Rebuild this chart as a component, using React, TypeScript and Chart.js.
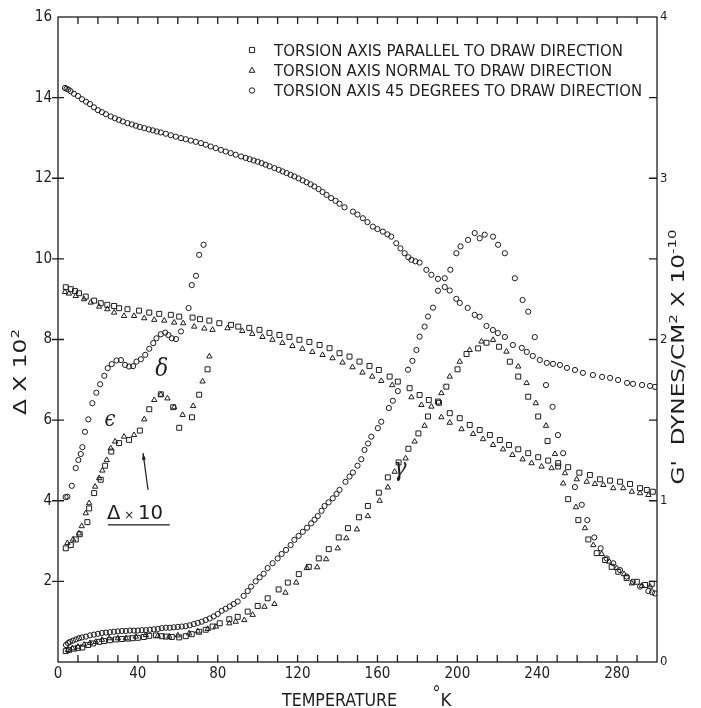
import React, { useEffect, useRef } from "react";
import { Chart, registerables } from "chart.js";

Chart.register(...registerables);

type Pt = [number, number];

// ---------- labels ----------
const legendLabels = [
  "TORSION AXIS PARALLEL TO DRAW DIRECTION",
  "TORSION AXIS NORMAL TO DRAW DIRECTION",
  "TORSION AXIS 45 DEGREES TO DRAW DIRECTION",
];
const xTitle = "TEMPERATURE";
const xUnit = "K";
const leftTitle = "Δ X 10";
const rightTitleA = "G'";
const rightTitleB = "DYNES/CM";
const rightTitleC = " X 10";
const rightTitleExp = "-10";
const peakDelta = "δ";
const peakEpsilon = "ϵ";
const peakGamma = "γ";
const scaleNote = "10";

// ---------- axis ranges / ticks ----------
const xRange: Pt = [0, 300];
const xLabelStep = 40;
const xMinorStep = 10;
const yLeftRange: Pt = [0, 16];
const yLeftStep = 2;
const yRightRange: Pt = [0, 4];
const yRightStep = 1;
const yRightMinorStep = 0.5;

// ---------- G' (right axis, dynes/cm^2 x 10^-10) ----------
const gSquare: Pt[] = [[3.9,2.324],[6.4,2.312],[8.5,2.3],[10.5,2.287],[13.9,2.266],[18.1,2.241],[21.4,2.225],[24.7,2.215],[28.1,2.208],[30.6,2.194],[34.8,2.188],[40.6,2.179],[45.7,2.167],[50.7,2.159],[56.5,2.153],[60.7,2.142],[67.4,2.136],[71.1,2.126],[75.8,2.117],[80.8,2.101],[86.7,2.091],[90.3,2.08],[95.8,2.072],[100.9,2.06],[105.9,2.041],[110.9,2.028],[115.9,2.016],[120.9,1.998],[125.9,1.985],[131,1.966],[136,1.946],[141,1.915],[146,1.894],[151,1.863],[156,1.836],[160.7,1.811],[166.1,1.77],[170.2,1.739],[176.1,1.698],[181.1,1.656],[185.7,1.625],[190.3,1.615],[196.2,1.543],[201.2,1.512],[206.2,1.47],[211.2,1.439],[216.3,1.408],[221.3,1.377],[225.9,1.346],[230.5,1.319],[235.5,1.295],[240.5,1.27],[245.5,1.249],[250.5,1.233],[255.5,1.208],[261.1,1.174],[266.4,1.16],[271.4,1.133],[276.5,1.125],[281.5,1.118],[286.5,1.104],[291.5,1.078],[294.9,1.067],[297.9,1.056]];
const gTriangle: Pt[] = [[3.5,2.295],[5.5,2.285],[8.9,2.27],[13,2.25],[16.4,2.229],[20.6,2.204],[24.7,2.188],[28.1,2.167],[33.1,2.146],[38.1,2.146],[43.2,2.132],[48.2,2.122],[53.2,2.117],[58.2,2.105],[62.7,2.101],[68.2,2.08],[73.3,2.068],[77.4,2.06],[84.9,2.07],[92.3,2.053],[97.3,2.035],[102.4,2.016],[107.4,1.998],[112.4,1.979],[117.4,1.96],[122.4,1.942],[127.4,1.923],[132.5,1.904],[137.5,1.884],[142.5,1.857],[147.5,1.828],[152.5,1.795],[157.4,1.77],[161.9,1.743],[167.4,1.717],[177,1.642],[182,1.594],[187,1.584],[192,1.518],[196.2,1.484],[202.1,1.444],[207.9,1.414],[212.9,1.382],[217.9,1.346],[222.9,1.319],[227.6,1.284],[232.7,1.257],[237.2,1.233],[242.2,1.212],[247.2,1.202],[253.9,1.171],[259.8,1.133],[264.8,1.118],[268.9,1.104],[273.1,1.098],[278.1,1.078],[283.1,1.078],[287.4,1.056],[291.5,1.047],[295.7,1.036]];
const gCircle: Pt[] = [[3.5,3.56],[4.3,3.555],[5.2,3.55],[6.3,3.54],[8,3.524],[10,3.51],[12,3.49],[14,3.475],[16,3.46],[18,3.44],[20,3.422],[22,3.41],[24,3.397],[26.4,3.383],[28.5,3.372],[30.5,3.362],[32.5,3.352],[34.8,3.342],[37,3.334],[39,3.326],[41,3.318],[43.2,3.311],[45.5,3.303],[47.5,3.297],[49.5,3.29],[51.5,3.284],[54,3.276],[56.5,3.267],[59,3.258],[61.6,3.249],[64,3.242],[66.5,3.234],[69,3.226],[71.6,3.218],[74,3.208],[76.5,3.197],[79,3.187],[81.6,3.176],[84,3.166],[86.5,3.156],[89,3.146],[91.7,3.135],[94,3.126],[96,3.118],[98,3.11],[100,3.103],[102,3.094],[104,3.084],[106,3.074],[108.4,3.063],[110.5,3.053],[112.5,3.042],[114.5,3.032],[116.5,3.021],[118.4,3.011],[120.5,2.999],[122.5,2.987],[124.5,2.975],[126.5,2.962],[128.4,2.949],[130.5,2.933],[132.5,2.915],[134.5,2.897],[136.8,2.877],[139,2.86],[141,2.842],[143.5,2.82],[147.7,2.793],[150,2.775],[152.7,2.752],[155,2.728],[157.7,2.7],[160,2.685],[162.7,2.669],[165,2.652],[166.9,2.638],[169.4,2.597],[171.5,2.565],[173.6,2.535],[175.5,2.51],[177,2.494],[179,2.485],[181.1,2.477],[184.5,2.432],[187,2.401],[190.3,2.376],[193.7,2.325],[196.2,2.304],[199.5,2.252],[201.2,2.227],[205.2,2.196],[208.7,2.153],[211.2,2.141],[214.6,2.084],[217.8,2.059],[220.3,2.04],[223.8,2.016],[227.8,1.966],[232.3,1.948],[234.8,1.923],[237.8,1.898],[241.3,1.873],[244.8,1.855],[247.9,1.849],[251.4,1.842],[254.9,1.824],[258.9,1.811],[262.9,1.793],[267.9,1.78],[272.5,1.768],[276.5,1.762],[280.5,1.749],[285,1.731],[288,1.725],[292.5,1.718],[296.5,1.712],[299,1.706]];

// ---------- Δ x 10^2 (left axis) ----------
const deltaSquare: Pt[] = [[3.9,0.27],[5.5,0.3],[8,0.33],[10,0.35],[12.2,0.36],[15,0.42],[17.5,0.46],[20.6,0.5],[23,0.52],[26,0.54],[29,0.56],[32,0.57],[35,0.58],[37.3,0.59],[40,0.6],[43,0.62],[45.7,0.65],[49,0.66],[52,0.64],[54,0.63],[57,0.62],[60.7,0.61],[64,0.64],[67,0.69],[70.7,0.75],[74,0.8],[77.4,0.88],[81,0.96],[85.8,1.06],[90,1.12],[95,1.25],[100,1.39],[105,1.58],[110.5,1.8],[115.1,1.97],[120.6,2.18],[125.6,2.36],[130.6,2.57],[135.6,2.8],[140.6,3.09],[145.2,3.32],[150.7,3.59],[155.2,3.87],[160.7,4.2],[165.2,4.58],[170.6,4.95],[175.5,5.29],[180.5,5.67],[185.3,6.09],[190.8,6.43],[194.5,6.83],[200.1,7.26],[204.6,7.64],[210.4,7.78],[214.6,7.92],[220.9,7.82],[226.3,7.45],[230.5,7.08],[235.5,6.58],[240.5,6.09],[245.2,5.48],[250.5,4.85],[255.5,4.04],[260.6,3.52],[265.6,3.04],[269.8,2.7],[274,2.53],[277.3,2.36],[280.6,2.24],[284.8,2.08],[289.9,1.99],[294,1.91],[297.4,1.94]];
const deltaTriangle: Pt[] = [[5,0.3],[7.2,0.34],[10,0.38],[13,0.43],[16,0.47],[18.9,0.5],[22,0.55],[25.6,0.59],[30,0.59],[34,0.59],[39,0.63],[44,0.67],[50,0.65],[55.7,0.63],[60,0.66],[65.7,0.71],[70,0.76],[75,0.82],[79.1,0.88],[85.8,0.96],[89,1.0],[93.3,1.04],[97.5,1.17],[103.4,1.37],[108.4,1.44],[113.9,1.72],[119.3,1.97],[124.6,2.33],[129.8,2.35],[134.3,2.55],[140.1,2.82],[144.4,3.07],[149.7,3.29],[155.2,3.62],[161.1,4.0],[165.2,4.33],[168.6,4.72],[174.1,5.05],[178.6,5.47],[183.6,5.86],[192,6.67],[196.2,7.08],[201.2,7.45],[206.2,7.74],[212.1,7.95],[217.9,7.99],[224.6,7.7],[230.5,7.33],[234.7,6.92],[239.3,6.42],[244.4,5.86],[248.9,5.16],[253,4.43],[259.4,3.84],[263.9,3.32],[268.1,2.9],[272.3,2.68],[276.1,2.49],[279.8,2.33],[283.5,2.18],[287.4,1.95],[292.4,1.89],[296.5,1.87]];
const deltaCircle: Pt[] = [[4,0.42],[5,0.47],[6,0.5],[7.5,0.53],[9,0.56],[10.5,0.59],[12,0.61],[14,0.63],[16,0.66],[18,0.68],[20,0.7],[22,0.72],[24,0.73],[26,0.74],[28,0.75],[30,0.76],[32,0.77],[34,0.77],[36,0.78],[38,0.78],[40,0.78],[42,0.79],[44,0.79],[46,0.8],[48,0.81],[50,0.82],[52,0.84],[54,0.85],[56,0.85],[58,0.86],[60,0.87],[62,0.88],[64,0.89],[66,0.91],[68,0.94],[70,0.97],[72,1.0],[74,1.04],[76,1.08],[78,1.13],[80,1.19],[82,1.27],[84,1.32],[86,1.38],[88,1.44],[90,1.5],[93,1.64],[95,1.76],[96.7,1.87],[99,2.0],[101,2.1],[103,2.19],[105,2.33],[107.5,2.45],[110,2.57],[112,2.68],[114.2,2.78],[116.5,2.9],[118.4,3.03],[120.5,3.13],[122.6,3.23],[124.7,3.33],[126.8,3.44],[128.5,3.53],[130.1,3.62],[132,3.75],[133.5,3.87],[135.5,3.96],[137.6,4.06],[139.5,4.17],[141,4.27],[144,4.47],[146,4.6],[147.7,4.7],[150,4.87],[151.9,5.03],[153.5,5.26],[155.3,5.42],[156.9,5.59],[160.2,5.8],[161.9,5.96],[165.7,6.3],[167.7,6.48],[170.2,6.72],[175.3,7.25],[177.5,7.47],[179.5,7.74],[181.1,8.07],[183.6,8.32],[185.3,8.57],[187.8,8.79],[190.3,9.21],[193.7,9.52],[196.5,9.73],[199.5,10.14],[201.6,10.31],[205.4,10.47],[208.7,10.64],[211.2,10.51],[213.7,10.6],[217.9,10.55],[220.4,10.35],[223.8,10.14],[228.8,9.52],[232.7,8.98],[235.5,8.69],[238.8,8.06],[244.4,6.87],[247.7,6.33],[250.4,5.63],[253,5.18],[258.9,4.34],[262.3,3.9],[265.1,3.52],[268.6,3.09],[271.8,2.82],[274.8,2.57],[278.1,2.45],[281.5,2.28],[284.8,2.12],[287.9,1.99],[291.5,1.87],[295.7,1.76],[297.5,1.73],[299,1.7]];

// ---------- Δ x 10 (low-temperature region, left axis) ----------
const dx10Square: Pt[] = [[3.9,2.82],[6.4,2.9],[8.9,3.04],[10.9,3.17],[14.7,3.47],[15.6,3.81],[18.1,4.19],[21.4,4.52],[23.6,4.87],[26.7,5.22],[30.6,5.43],[35.6,5.51],[41,5.74],[45.7,6.27],[51.5,6.64],[57.7,6.32],[60.7,5.81],[67.1,6.07],[70.7,6.63],[74.9,7.26]];
const dx10Triangle: Pt[] = [[4.7,2.95],[7.5,3.04],[10.5,3.19],[11.9,3.37],[13.9,3.69],[15.6,3.94],[18.6,4.35],[20.6,4.56],[22.2,4.75],[24.4,5.01],[26.4,5.3],[28.6,5.47],[33.1,5.59],[38.1,5.63],[43.2,6.02],[48.2,6.5],[51.5,6.63],[54.8,6.54],[58.2,6.32],[62.4,6.13],[67.7,6.35],[72.4,6.96],[75.8,7.58]];
const dx10Circle: Pt[] = [[3.8,4.09],[4.7,4.1],[6.9,4.37],[8.9,4.81],[10.2,5.01],[11.4,5.16],[12.2,5.33],[13.5,5.71],[15.2,6.02],[17.2,6.42],[19.2,6.68],[21.1,6.89],[23.2,7.1],[24.9,7.29],[26.9,7.39],[29.3,7.48],[31.5,7.49],[33.6,7.37],[35.6,7.33],[37.6,7.34],[39.3,7.45],[41.5,7.51],[43.7,7.62],[45.7,7.77],[47.7,7.91],[49.3,8.03],[51.5,8.13],[53.7,8.17],[55.3,8.11],[57,8.03],[59.1,8.01],[61.6,8.2],[65.4,8.78],[67,9.35],[69.1,9.58],[70.7,10.1],[72.9,10.35]];

const INK = "#1d1d1d";
const NARROW = '"Liberation Sans Narrow", "DejaVu Sans Condensed", "DejaVu Sans", sans-serif';
const SANS = '"DejaVu Sans", "Liberation Sans", sans-serif';
const SERIF = '"DejaVu Serif", "Liberation Serif", serif';

type Run = { t: string; size: number; dy?: number; family?: string; style?: string };

function drawRuns(ctx: CanvasRenderingContext2D, runs: Run[], cx: number, cy: number, targetW: number, rot: number, align: "center" | "left" = "center") {
  ctx.save();
  const main = runs[0].size;
  const widths = runs.map((r) => {
    ctx.font = `${r.style || ""} ${r.size}px ${r.family || NARROW}`;
    return ctx.measureText(r.t).width;
  });
  const total = widths.reduce((a, b) => a + b, 0);
  const sx = targetW / total;
  ctx.translate(cx, cy);
  ctx.rotate(rot);
  ctx.scale(sx, 1);
  ctx.textBaseline = "alphabetic";
  ctx.textAlign = "left";
  let x = align === "center" ? -total / 2 : 0;
  const base = main * 0.36;
  runs.forEach((r, i) => {
    ctx.font = `${r.style || ""} ${r.size}px ${r.family || NARROW}`;
    ctx.fillText(r.t, x, base + (r.dy || 0));
    x += widths[i];
  });
  ctx.restore();
}

function marker(ctx: CanvasRenderingContext2D, style: string, x: number, y: number) {
  ctx.beginPath();
  if (style === "rect") ctx.rect(x - 2.6, y - 2.6, 5.2, 5.2);
  else if (style === "triangle") {
    ctx.moveTo(x, y - 3.2);
    ctx.lineTo(x + 2.9, y + 1.8);
    ctx.lineTo(x - 2.9, y + 1.8);
    ctx.closePath();
  } else ctx.arc(x, y, 2.7, 0, Math.PI * 2);
  ctx.stroke();
}

const decor = {
  id: "decor",
  beforeDraw(chart: any) {
    const { ctx, width, height } = chart;
    ctx.save();
    ctx.fillStyle = "#ffffff";
    ctx.fillRect(0, 0, width, height);
    ctx.restore();
  },
  afterDraw(chart: any) {
    const { ctx, chartArea: a, scales } = chart;
    const sx = scales.x, yl = scales.y, yr = scales.y2;
    ctx.save();
    ctx.strokeStyle = INK;
    ctx.fillStyle = INK;
    ctx.lineWidth = 1.3;
    ctx.strokeRect(a.left, a.top, a.right - a.left, a.bottom - a.top);
    ctx.beginPath();
    for (let v = sx.min + xMinorStep; v < sx.max; v += xMinorStep) {
      const px = sx.getPixelForValue(v);
      ctx.moveTo(px, a.bottom); ctx.lineTo(px, a.bottom - 7);
      ctx.moveTo(px, a.top); ctx.lineTo(px, a.top + 7);
    }
    for (let v = yl.min + yLeftStep; v < yl.max; v += yLeftStep) {
      const py = yl.getPixelForValue(v);
      ctx.moveTo(a.left - 6, py); ctx.lineTo(a.left + 6, py);
    }
    for (let v = yr.min + yRightMinorStep; v < yr.max; v += yRightMinorStep) {
      const py = yr.getPixelForValue(v);
      ctx.moveTo(a.right, py); ctx.lineTo(a.right - 8, py);
    }
    ctx.stroke();

    // legend
    ctx.lineWidth = 1;
    const styles = ["rect", "triangle", "circle"];
    const rowY = [50, 70.5, 90.5];
    const rowW = [349, 338, 368];
    legendLabels.forEach((lab, i) => {
      marker(ctx, styles[i], 252, rowY[i]);
      drawRuns(ctx, [{ t: lab, size: 16 }], 274, rowY[i], rowW[i], 0, "left");
    });

    // axis titles
    drawRuns(ctx, [{ t: xTitle, size: 17 }], 339.5, 700, 115, 0);
    drawRuns(ctx, [{ t: "°", size: 20, dy: -7, family: SANS }], 436.5, 700, 8, 0);
    drawRuns(ctx, [{ t: xUnit, size: 17 }], 446, 700, 11, 0);
    drawRuns(ctx, [{ t: leftTitle, size: 17 }, { t: "2", size: 11, dy: -7 }], 20, 372, 86, -Math.PI / 2);
    drawRuns(ctx, [
      { t: rightTitleA + "  ", size: 17 },
      { t: rightTitleB, size: 17 },
      { t: "2", size: 11, dy: -7 },
      { t: rightTitleC, size: 17 },
      { t: rightTitleExp, size: 11, dy: -8 },
    ], 678, 357, 255, -Math.PI / 2);

    // peak annotations
    const P = (x: number, y: number) => [sx.getPixelForValue(x), yl.getPixelForValue(y)];
    const [dxp, dyp] = P(52, 7.3);
    drawRuns(ctx, [{ t: peakDelta, size: 24, family: SERIF, style: "italic" }], dxp, dyp, 13, 0);
    const [exp, eyp] = P(26, 6.05);
    drawRuns(ctx, [{ t: peakEpsilon, size: 22, family: SERIF, style: "italic" }], exp, eyp, 11, 0);
    const [gxp, gyp] = P(171.3, 4.85);
    drawRuns(ctx, [{ t: peakGamma, size: 26, family: SERIF, style: "italic" }], gxp, gyp, 13, 0);

    const [nxp, nyp] = P(38.6, 3.72);
    drawRuns(ctx, [{ t: "Δ", size: 20, family: SANS }, { t: " × ", size: 12, family: SANS }, { t: scaleNote, size: 20, family: SANS }], nxp, nyp, 56, 0);
    const [ux1, uy] = P(25, 3.4);
    const [ux2] = P(56, 3.4);
    ctx.lineWidth = 1.2;
    ctx.beginPath();
    ctx.moveTo(ux1, uy); ctx.lineTo(ux2, uy);
    const [ax1, ay1] = P(45.1, 4.27);
    const [ax2, ay2] = P(42.6, 5.18);
    ctx.moveTo(ax1, ay1); ctx.lineTo(ax2, ay2);
    ctx.stroke();
    const ang = Math.atan2(ay2 - ay1, ax2 - ax1);
    ctx.beginPath();
    ctx.moveTo(ax2, ay2);
    ctx.lineTo(ax2 - 7 * Math.cos(ang - 0.28), ay2 - 7 * Math.sin(ang - 0.28));
    ctx.lineTo(ax2 - 7 * Math.cos(ang + 0.28), ay2 - 7 * Math.sin(ang + 0.28));
    ctx.closePath();
    ctx.fill();
    ctx.restore();
  },
};

function series(label: string, data: Pt[], style: string, axis: string) {
  const r = style === "rect" ? 3.5 : style === "triangle" ? 3.1 : 2.6;
  return {
    label,
    data: data.map(([x, y]) => ({ x, y })),
    yAxisID: axis,
    pointStyle: style,
    pointRadius: r,
    pointBorderWidth: 1,
    borderColor: INK,
    backgroundColor: "rgba(255,255,255,0)",
    pointBackgroundColor: "rgba(255,255,255,0)",
    pointBorderColor: INK,
    showLine: false,
  };
}

export default function App() {
  const ref = useRef<HTMLCanvasElement | null>(null);
  useEffect(() => {
    if (!ref.current) return;
    const tickFont = { family: NARROW, size: 15 };
    const chart = new Chart(ref.current, {
      type: "scatter",
      data: {
        datasets: [
          series(legendLabels[0] + " (G')", gSquare, "rect", "y2"),
          series(legendLabels[1] + " (G')", gTriangle, "triangle", "y2"),
          series(legendLabels[2] + " (G')", gCircle, "circle", "y2"),
          series(legendLabels[0] + " (Δ)", deltaSquare, "rect", "y"),
          series(legendLabels[1] + " (Δ)", deltaTriangle, "triangle", "y"),
          series(legendLabels[2] + " (Δ)", deltaCircle, "circle", "y"),
          series(legendLabels[0] + " (Δx10)", dx10Square, "rect", "y"),
          series(legendLabels[1] + " (Δx10)", dx10Triangle, "triangle", "y"),
          series(legendLabels[2] + " (Δx10)", dx10Circle, "circle", "y"),
        ] as any,
      },
      options: {
        animation: false,
        responsive: false,
        maintainAspectRatio: false,
        layout: { padding: { top: 17, left: 0, right: 0, bottom: 0 } },
        plugins: { legend: { display: false }, tooltip: { enabled: false } },
        scales: {
          x: {
            type: "linear",
            position: "bottom",
            min: xRange[0],
            max: xRange[1],
            grid: { display: false, drawTicks: false },
            border: { display: false },
            ticks: {
              stepSize: xLabelStep,
              autoSkip: false,
              maxRotation: 0,
              padding: 3,
              color: INK,
              font: tickFont,
              callback: (v: any) => (Number(v) % xLabelStep === 0 && Number(v) < xRange[1] ? String(v) : null),
            },
            afterFit: (s: any) => { s.height = 46; },
          },
          y: {
            type: "linear",
            position: "left",
            min: yLeftRange[0],
            max: yLeftRange[1],
            grid: { display: false, drawTicks: false },
            border: { display: false },
            ticks: {
              stepSize: yLeftStep,
              padding: 6,
              color: INK,
              font: tickFont,
              callback: (v: any) => (Number(v) === 0 ? null : String(v)),
            },
            afterFit: (s: any) => { s.width = 58; },
          },
          y2: {
            type: "linear",
            position: "right",
            min: yRightRange[0],
            max: yRightRange[1],
            grid: { display: false, drawTicks: false },
            border: { display: false },
            ticks: { stepSize: yRightStep, padding: 3, color: INK, font: { family: NARROW, size: 13 } },
            afterFit: (s: any) => { s.width = 44; },
          },
        },
      } as any,
      plugins: [decor],
    });
    return () => chart.destroy();
  }, []);
  return (
    <div style={{ position: "absolute", left: 0, top: 0, width: 701, height: 708, background: "#fff" }}>
      <canvas ref={ref} width={701} height={708} style={{ width: 701, height: 708, display: "block" }} />
    </div>
  );
}
